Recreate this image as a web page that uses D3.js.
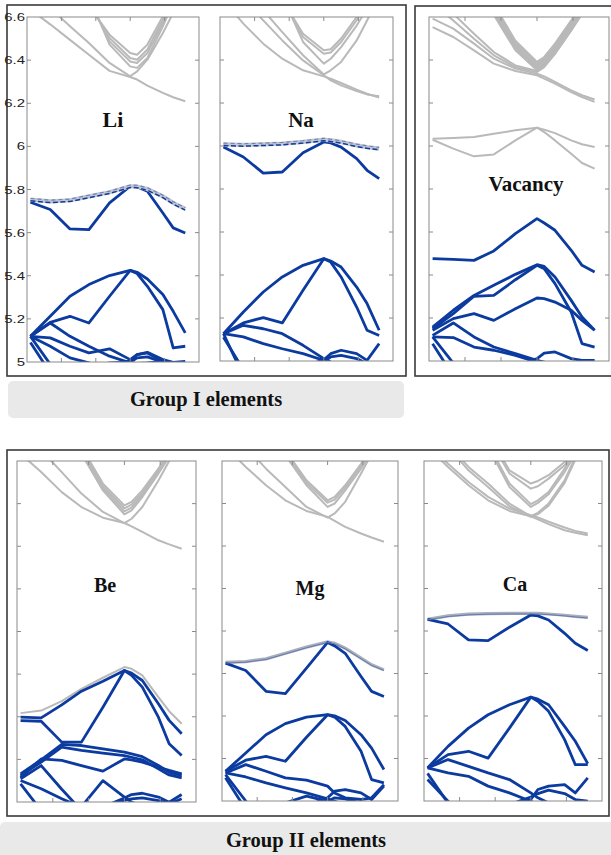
<!DOCTYPE html>
<html><head><meta charset="utf-8">
<script src="https://cdn.jsdelivr.net/npm/d3@7"></script>
<style>body{margin:0;background:#fff;} svg{display:block;}</style>
</head><body>
<svg id="c" width="611" height="855"></svg>
<script>
// ---------- data ----------
const kPath = [0.02, 0.135, 0.25, 0.36, 0.48, 0.60, 0.64, 0.70, 0.79, 0.85, 0.92];
const kTicks = [0.2, 0.4, 0.6, 0.8];
const energyTicks = [5, 5.2, 5.4, 5.6, 5.8, 6, 6.2, 6.4, 6.6];
const energyTickLabels = ["5","5.2","5.4","5.6","5.8","6","6.2","6.4","6.6"];
const panelNames = ["Li","Na","Vacancy","Be","Mg","Ca"];
const groupLabels = ["Group I elements","Group II elements"];

// Li
const liGray = [
 [6.634, 6.566, 6.494, 6.425, 6.35, 6.322, 6.31, 6.282, 6.248, 6.228, 6.209],
 [6.758, 6.642, 6.557, 6.479, 6.387, 6.325, 6.348, 6.402, 6.526, 6.619, 6.73],
 [7.1, 6.95, 6.8, 6.649, 6.518, 6.433, 6.425, 6.472, 6.603, 6.711, 6.85],
 [7.1, 6.95, 6.8, 6.665, 6.503, 6.41, 6.402, 6.449, 6.588, 6.696, 6.85],
 [7.1, 6.95, 6.8, 6.68, 6.487, 6.394, 6.387, 6.433, 6.572, 6.68, 6.85],
 [7.1, 6.95, 6.8, 6.696, 6.472, 6.371, 6.364, 6.41, 6.557, 6.665, 6.85]
];
const liDashed = [5.753, 5.745, 5.75, 5.768, 5.787, 5.815, 5.814, 5.802, 5.768, 5.738, 5.71];
const liBlue = [
 [5.741, 5.707, 5.617, 5.614, 5.738, 5.815, 5.812, 5.792, 5.691, 5.622, 5.598],
 [5.119, 5.212, 5.305, 5.359, 5.401, 5.425, 5.416, 5.385, 5.313, 5.235, 5.135],
 [5.119, 5.184, 5.212, 5.181, 5.305, 5.425, 5.41, 5.351, 5.243, 5.065, 5.073],
 [5.119, 5.112, 5.073, 5.042, 5.061, 5.011, 5.034, 5.042, 5.003, 4.98, 4.95],
 [5.119, 5.181, 5.119, 5.073, 5.027, 4.996, 4.993, 4.996, 5.003, 4.996, 4.99],
 [5.119, 4.99, 4.9, 4.85, 4.8, 4.8, 4.8, 4.8, 4.8, 4.8, 4.8],
 [5.09, 4.95, 4.85, 4.8, 4.8, 4.8, 4.8, 4.8, 4.8, 4.8, 4.8],
 [4.9, 4.9, 4.95, 4.97, 4.98, 5.006, 5.034, 5.045, 5.011, 4.998, 5.003],
 [4.9, 4.9, 4.95, 4.97, 4.996, 4.999, 5.019, 5.024, 4.999, 4.99, 4.996],
 [5.119, 5.073, 5.019, 4.996, 4.97, 4.95, 4.95, 4.95, 4.95, 4.95, 4.95]
];

// Na
const naGray = [
 [6.678, 6.569, 6.476, 6.406, 6.352, 6.324, 6.313, 6.293, 6.262, 6.243, 6.225],
 [6.771, 6.685, 6.584, 6.491, 6.398, 6.329, 6.305, 6.282, 6.256, 6.24, 6.231],
 [6.833, 6.74, 6.631, 6.53, 6.422, 6.333, 6.352, 6.391, 6.491, 6.584, 6.693],
 [7, 7, 6.85, 6.68, 6.522, 6.445, 6.45, 6.5, 6.6, 6.68, 6.8],
 [7, 7, 6.86, 6.69, 6.507, 6.429, 6.435, 6.484, 6.585, 6.665, 6.8],
 [7, 7, 6.87, 6.7, 6.484, 6.383, 6.406, 6.46, 6.56, 6.64, 6.78]
];
const naDashed = [6.008, 6.005, 6.008, 6.011, 6.019, 6.03, 6.026, 6.019, 6.003, 5.995, 5.988];
const naBlue = [
 [5.995, 5.949, 5.874, 5.879, 5.969, 6.019, 6.014, 5.995, 5.941, 5.887, 5.848],
 [5.127, 5.228, 5.321, 5.391, 5.445, 5.476, 5.465, 5.437, 5.344, 5.267, 5.143],
 [5.127, 5.177, 5.202, 5.177, 5.329, 5.476, 5.46, 5.391, 5.251, 5.143, 5.119],
 [5.127, 5.112, 5.081, 5.057, 5.034, 5.003, 4.988, 4.97, 4.95, 4.95, 4.95],
 [5.127, 5.166, 5.15, 5.127, 5.073, 5.011, 4.995, 4.98, 4.96, 4.96, 4.96],
 [5.127, 4.93, 4.8, 4.8, 4.8, 4.8, 4.8, 4.8, 4.8, 4.8, 4.8],
 [5.11, 4.96, 4.85, 4.8, 4.8, 4.8, 4.8, 4.8, 4.8, 4.8, 4.8],
 [4.9, 4.9, 4.9, 4.926, 4.972, 5.006, 5.034, 5.05, 5.034, 5.003, 5.081],
 [4.9, 4.9, 4.9, 4.93, 4.972, 4.995, 5.019, 5.026, 5.011, 4.988, 4.988]
];

// Vacancy
const vacGray = [
 [6.553, 6.507, 6.445, 6.383, 6.349, 6.329, 6.313, 6.29, 6.251, 6.228, 6.205],
 [6.592, 6.546, 6.476, 6.406, 6.36, 6.336, 6.324, 6.298, 6.259, 6.236, 6.216],
 [6.662, 6.584, 6.499, 6.422, 6.367, 6.344, 6.367, 6.429, 6.538, 6.615, 6.709],
 [6.709, 6.615, 6.522, 6.437, 6.375, 6.349, 6.375, 6.445, 6.553, 6.631, 6.724],
 [7.2, 7, 6.8, 6.66, 6.49, 6.391, 6.414, 6.476, 6.584, 6.662, 6.8],
 [7.2, 7, 6.81, 6.65, 6.48, 6.383, 6.405, 6.466, 6.575, 6.652, 6.8],
 [7.2, 7, 6.82, 6.64, 6.47, 6.375, 6.397, 6.456, 6.566, 6.642, 6.8],
 [7.2, 7, 6.83, 6.63, 6.46, 6.367, 6.39, 6.446, 6.557, 6.632, 6.8],
 [7.2, 7, 6.84, 6.62, 6.45, 6.36, 6.382, 6.437, 6.548, 6.624, 6.8],
 [7.2, 7, 6.85, 6.61, 6.445, 6.352, 6.375, 6.429, 6.538, 6.615, 6.8],
 [6.034, 6.037, 6.042, 6.057, 6.073, 6.085, 6.076, 6.06, 6.026, 6.008, 5.995],
 [6.029, 5.988, 5.952, 5.961, 6.026, 6.085, 6.065, 6.026, 5.964, 5.921, 5.895]
];
const vacBlue = [
 [5.476, 5.473, 5.468, 5.512, 5.592, 5.662, 5.642, 5.608, 5.515, 5.445, 5.414],
 [5.158, 5.236, 5.305, 5.352, 5.403, 5.448, 5.44, 5.391, 5.282, 5.205, 5.143],
 [5.15, 5.22, 5.301, 5.305, 5.378, 5.445, 5.429, 5.36, 5.228, 5.081, 5.065],
 [5.143, 5.197, 5.22, 5.189, 5.243, 5.293, 5.29, 5.274, 5.236, 5.189, 5.143],
 [5.119, 5.177, 5.112, 5.065, 5.034, 5.003, 4.995, 4.98, 4.97, 4.97, 4.97],
 [5.112, 5.109, 5.065, 5.05, 5.026, 4.995, 4.98, 4.97, 4.97, 4.97, 4.97],
 [5.112, 4.99, 4.85, 4.8, 4.8, 4.8, 4.8, 4.8, 4.8, 4.8, 4.8],
 [5.08, 4.93, 4.85, 4.8, 4.8, 4.8, 4.8, 4.8, 4.8, 4.8, 4.8],
 [4.9, 4.9, 4.9, 4.93, 4.972, 5.011, 5.037, 5.042, 5.011, 5.003, 5.003]
];

// Be
const beGray = [
 [6.634, 6.548, 6.454, 6.384, 6.334, 6.309, 6.293, 6.267, 6.228, 6.209, 6.188],
 [6.744, 6.65, 6.548, 6.447, 6.361, 6.309, 6.329, 6.384, 6.509, 6.6, 6.697],
 [7.2, 7, 6.8, 6.666, 6.494, 6.392, 6.408, 6.462, 6.564, 6.65, 6.8],
 [7.2, 7, 6.81, 6.655, 6.483, 6.378, 6.395, 6.452, 6.556, 6.64, 6.8],
 [7.2, 7, 6.82, 6.645, 6.472, 6.364, 6.381, 6.441, 6.548, 6.63, 6.8],
 [7.2, 7, 6.83, 6.634, 6.462, 6.35, 6.368, 6.431, 6.541, 6.619, 6.8],
 [5.417, 5.429, 5.473, 5.531, 5.583, 5.633, 5.625, 5.594, 5.492, 5.426, 5.367]
];
const beBlue = [
 [5.398, 5.395, 5.456, 5.52, 5.567, 5.617, 5.605, 5.57, 5.461, 5.383, 5.32],
 [5.382, 5.379, 5.281, 5.281, 5.445, 5.617, 5.594, 5.539, 5.398, 5.273, 5.218],
 [5.132, 5.198, 5.27, 5.265, 5.249, 5.234, 5.226, 5.213, 5.171, 5.14, 5.124],
 [5.124, 5.187, 5.257, 5.242, 5.229, 5.218, 5.21, 5.198, 5.156, 5.127, 5.113],
 [5.116, 5.202, 5.195, 5.171, 5.145, 5.202, 5.198, 5.187, 5.163, 5.148, 5.132],
 [5.109, 5.171, 5.06, 4.96, 4.9, 4.9, 4.9, 4.9, 4.9, 4.9, 4.9],
 [5.101, 5.062, 5.015, 4.976, 4.944, 4.9, 4.9, 4.9, 4.9, 4.9, 4.9],
 [5.085, 4.96, 4.9, 4.9, 4.9, 4.9, 4.9, 4.9, 4.9, 4.9, 4.9],
 [4.8, 4.8, 4.85, 4.978, 5.1, 5.023, 4.999, 4.983, 4.95, 4.9, 4.9],
 [4.9, 4.9, 4.9, 4.93, 4.976, 5.019, 5.035, 5.041, 5.023, 4.999, 5.035],
 [4.9, 4.9, 4.9, 4.93, 4.97, 5.007, 5.015, 5.019, 5.007, 4.991, 5.015]
];

// Mg
const mgGray = [
 [6.666, 6.572, 6.486, 6.415, 6.365, 6.337, 6.318, 6.29, 6.259, 6.24, 6.22],
 [6.791, 6.666, 6.564, 6.478, 6.384, 6.334, 6.353, 6.408, 6.541, 6.634, 6.728],
 [7.2, 7, 6.8, 6.65, 6.509, 6.415, 6.431, 6.486, 6.587, 6.666, 6.8],
 [7.2, 7, 6.8, 6.639, 6.498, 6.404, 6.418, 6.475, 6.577, 6.655, 6.8],
 [7.2, 7, 6.8, 6.627, 6.486, 6.384, 6.4, 6.462, 6.564, 6.642, 6.8]
];
const mgOverlay = [5.652, 5.656, 5.669, 5.695, 5.724, 5.749, 5.742, 5.719, 5.672, 5.641, 5.617];
const mgBlue = [
 [5.649, 5.614, 5.516, 5.505, 5.625, 5.746, 5.73, 5.695, 5.586, 5.516, 5.492],
 [5.14, 5.226, 5.312, 5.364, 5.395, 5.406, 5.401, 5.379, 5.312, 5.249, 5.148],
 [5.14, 5.192, 5.21, 5.187, 5.3, 5.406, 5.395, 5.351, 5.234, 5.101, 5.085],
 [5.132, 5.171, 5.14, 5.109, 5.098, 5.07, 5.038, 5.015, 5.007, 5.015, 5.077],
 [5.132, 5.113, 5.085, 5.062, 5.038, 5.01, 4.999, 4.983, 4.976, 4.976, 4.976],
 [5.124, 5.0, 4.85, 4.8, 4.8, 4.8, 4.8, 4.8, 4.8, 4.8, 4.8],
 [5.109, 4.96, 4.85, 4.8, 4.8, 4.8, 4.8, 4.8, 4.8, 4.8, 4.8],
 [4.9, 4.9, 4.9, 4.93, 4.976, 5.015, 5.046, 5.054, 5.038, 5.007, 5.07],
 [4.9, 4.9, 4.95, 4.991, 5.023, 4.999, 5.015, 5.01, 4.99, 4.99, 4.99]
];

// Ca
const caGray = [
 [6.666, 6.572, 6.486, 6.415, 6.365, 6.34, 6.325, 6.303, 6.274, 6.262, 6.251],
 [6.681, 6.587, 6.501, 6.431, 6.376, 6.345, 6.334, 6.314, 6.287, 6.271, 6.259],
 [6.822, 6.681, 6.572, 6.494, 6.4, 6.34, 6.356, 6.4, 6.509, 6.619, 6.728],
 [6.807, 6.666, 6.556, 6.478, 6.387, 6.337, 6.35, 6.39, 6.497, 6.606, 6.712],
 [7.2, 7, 6.85, 6.728, 6.556, 6.494, 6.506, 6.533, 6.595, 6.65, 6.8],
 [7.2, 7, 6.85, 6.713, 6.541, 6.47, 6.481, 6.517, 6.58, 6.634, 6.8],
 [7.2, 7, 6.8, 6.681, 6.494, 6.397, 6.415, 6.454, 6.564, 6.65, 6.8],
 [7.2, 7, 6.8, 6.666, 6.478, 6.384, 6.403, 6.444, 6.548, 6.634, 6.8]
];
const caOverlay = [5.855, 5.871, 5.879, 5.882, 5.883, 5.883, 5.883, 5.88, 5.874, 5.869, 5.864];
const caBlue = [
 [5.855, 5.833, 5.758, 5.755, 5.818, 5.875, 5.871, 5.852, 5.789, 5.742, 5.708],
 [5.156, 5.257, 5.343, 5.406, 5.453, 5.489, 5.479, 5.453, 5.351, 5.281, 5.176],
 [5.156, 5.218, 5.234, 5.202, 5.343, 5.489, 5.469, 5.422, 5.289, 5.171, 5.171],
 [5.156, 5.195, 5.163, 5.132, 5.101, 5.038, 5.015, 4.991, 4.976, 4.976, 4.976],
 [5.156, 5.132, 5.116, 5.07, 5.038, 4.999, 4.983, 4.97, 4.97, 4.97, 4.97],
 [5.13, 4.99, 4.85, 4.8, 4.8, 4.8, 4.8, 4.8, 4.8, 4.8, 4.8],
 [5.101, 4.999, 4.9, 4.85, 4.8, 4.8, 4.8, 4.8, 4.8, 4.8, 4.8],
 [4.9, 4.9, 4.9, 4.93, 4.976, 5.007, 5.054, 5.07, 5.077, 5.038, 5.109],
 [4.9, 4.9, 4.9, 4.93, 4.983, 5.019, 5.035, 5.051, 5.035, 5.007, 4.999]
];

// ---------- layout ----------
const BLUE = "#0c3ba0", GRAY = "#b9b9b9";
const serif = "'Liberation Serif','Times New Roman',Times,serif";
const panels = [
 {name: panelNames[0], x0:27, x1:199, y0:17, y1:362, gray:liGray, blue:liBlue, dashed:liDashed, lx:113, ly:127, fs:22, labels:true},
 {name: panelNames[1], x0:220, x1:393, y0:17, y1:361, gray:naGray, blue:naBlue, dashed:naDashed, lx:301, ly:127, fs:21},
 {name: panelNames[2], x0:429, x1:609, y0:17, y1:361, gray:vacGray, blue:vacBlue, lx:526, ly:191, fs:21},
 {name: panelNames[3], x0:17, x1:196, y0:461, y1:802, gray:beGray, blue:beBlue, lx:105, ly:592, fs:20},
 {name: panelNames[4], x0:222, x1:398, y0:461, y1:801, gray:mgGray, blue:mgBlue, overlay:mgOverlay, lx:310, ly:595, fs:20},
 {name: panelNames[5], x0:424, x1:602, y0:461, y1:801, gray:caGray, blue:caBlue, overlay:caOverlay, lx:515, ly:591, fs:20}
];

const svg = d3.select("#c");
svg.append("rect").attr("width",611).attr("height",855).attr("fill","#fff");

// outer frames
const frames = [[7,5,399,371],[415,6,210,370],[7,450,602,366]];
svg.selectAll("rect.frame").data(frames).enter().append("rect")
  .attr("x",d=>d[0]).attr("y",d=>d[1]).attr("width",d=>d[2]).attr("height",d=>d[3])
  .attr("fill","none").attr("stroke","#3a3a3a").attr("stroke-width",1.6);

// group label boxes
const gboxes = [[8,381,396,37,206,406],[0,822,620,40,306,847]];
gboxes.forEach((b,i)=>{
  svg.append("rect").attr("x",b[0]).attr("y",b[1]).attr("width",b[2]).attr("height",b[3])
    .attr("rx",5).attr("fill","#e9e9e9");
  svg.append("text").attr("x",b[4]).attr("y",b[5]).attr("text-anchor","middle")
    .attr("font-family",serif).attr("font-weight","bold").attr("font-size",20.5)
    .attr("fill","#111").text(groupLabels[i]);
});

panels.forEach((p,pi)=>{
  const x = d3.scaleLinear().domain([0,1]).range([p.x0,p.x1]);
  const y = d3.scaleLinear().domain([5,6.6]).range([p.y1,p.y0]);
  const g = svg.append("g");
  const cid = "clip"+pi;
  svg.append("clipPath").attr("id",cid).append("rect")
    .attr("x",p.x0).attr("y",p.y0).attr("width",p.x1-p.x0).attr("height",p.y1-p.y0);
  const line = d3.line().x((d,i)=>x(kPath[i])).y(d=>y(d));
  const plot = g.append("g").attr("clip-path",`url(#${cid})`);

  plot.selectAll("path.g").data(p.gray).enter().append("path")
    .attr("d",line).attr("fill","none").attr("stroke",GRAY).attr("stroke-width",2)
    .attr("stroke-linejoin","round");
  if (p.overlay){
    plot.append("path").attr("d",line(p.overlay)).attr("fill","none")
      .attr("stroke","#a9aebb").attr("stroke-width",3.2);
  }
  plot.selectAll("path.b").data(p.blue).enter().append("path")
    .attr("d",line).attr("fill","none").attr("stroke",BLUE).attr("stroke-width",2.8)
    .attr("stroke-linejoin","round");
  if (p.overlay){
    plot.append("path").attr("d",line(p.overlay)).attr("fill","none")
      .attr("stroke","#6478b4").attr("stroke-width",1).attr("transform","translate(0,0.6)");
  }
  if (p.dashed){
    plot.append("path").attr("d",line(p.dashed)).attr("fill","none")
      .attr("stroke","#c3c6cf").attr("stroke-width",4.2);
    plot.append("path").attr("d",line(p.dashed)).attr("fill","none")
      .attr("stroke",BLUE).attr("stroke-width",1.5).attr("stroke-dasharray","5,2.5")
      .attr("transform","translate(0,1.2)");
    plot.append("path").attr("d",line(p.dashed)).attr("fill","none")
      .attr("stroke","#6d7fb8").attr("stroke-width",1.1).attr("stroke-dasharray","4,3")
      .attr("transform","translate(0,-1.2)");
  }

  // axes box
  g.append("rect").attr("x",p.x0).attr("y",p.y0).attr("width",p.x1-p.x0).attr("height",p.y1-p.y0)
    .attr("fill","none").attr("stroke","#8a8a8a").attr("stroke-width",1);
  // ticks
  const tk = 4;
  energyTicks.slice(1,-1).forEach(t=>{
    g.append("line").attr("x1",p.x0).attr("x2",p.x0+tk).attr("y1",y(t)).attr("y2",y(t)).attr("stroke","#8a8a8a");
    g.append("line").attr("x1",p.x1).attr("x2",p.x1-tk).attr("y1",y(t)).attr("y2",y(t)).attr("stroke","#8a8a8a");
  });
  kTicks.forEach(t=>{
    g.append("line").attr("x1",x(t)).attr("x2",x(t)).attr("y1",p.y0).attr("y2",p.y0+tk).attr("stroke","#8a8a8a");
    g.append("line").attr("x1",x(t)).attr("x2",x(t)).attr("y1",p.y1).attr("y2",p.y1-tk).attr("stroke","#8a8a8a");
  });
  if (p.labels){
    energyTicks.forEach((t,i)=>{
      g.append("text").attr("transform",`translate(${p.x0-2},${y(t)+4}) scale(1.3,1)`)
        .attr("text-anchor","end").attr("font-family","'Liberation Sans',Arial,sans-serif")
        .attr("font-size",11.5).attr("fill","#222").text(energyTickLabels[i]);
    });
  }
  g.append("text").attr("x",p.lx).attr("y",p.ly).attr("text-anchor","middle")
    .attr("font-family",serif).attr("font-weight","bold").attr("font-size",p.fs)
    .attr("fill","#111").text(p.name);
});
</script>
</body></html>
